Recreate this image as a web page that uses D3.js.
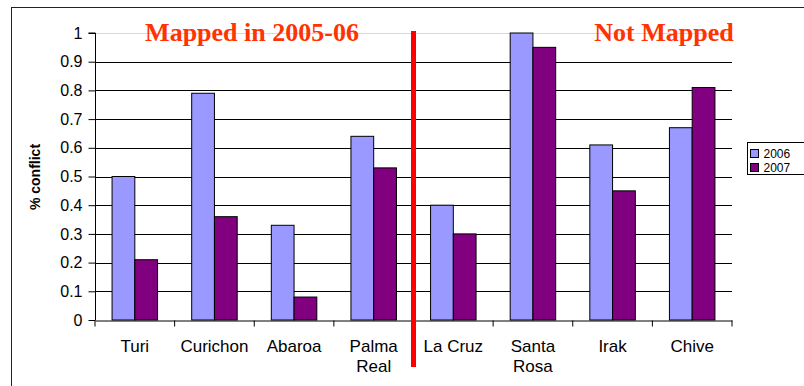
<!DOCTYPE html>
<html>
<head>
<meta charset="utf-8">
<script src="https://cdn.jsdelivr.net/npm/d3@7"></script>
<style>
  html, body { margin: 0; padding: 0; background: #fff; }
  svg { display: block; }
</style>
</head>
<body>
<svg id="chart" width="804" height="386"></svg>
<script>
// Study sites, in display order (first four mapped, last four not mapped)
const categories = ["Turi", "Curichon", "Abaroa", "Palma Real", "La Cruz", "Santa Rosa", "Irak", "Chive"];
const seriesNames = ["2006", "2007"];
const values2006 = [0.50, 0.79, 0.33, 0.64, 0.40, 1.00, 0.61, 0.67];
const values2007 = [0.21, 0.36, 0.08, 0.53, 0.30, 0.95, 0.45, 0.81];
const yTicks = [0, 0.1, 0.2, 0.3, 0.4, 0.5, 0.6, 0.7, 0.8, 0.9, 1];
const seriesColors = ["#9999ff", "#800080"];

const svg = d3.select("#chart");

// Outer chart frame
svg.append("rect")
  .attr("x", 11.5).attr("y", 7.5)
  .attr("width", 820).attr("height", 400)
  .attr("fill", "none").attr("stroke", "#222").attr("stroke-width", 1);

const plot = { left: 95, right: 732, top: 33, bottom: 320 };

const x0 = d3.scaleBand().domain(categories).range([plot.left, plot.right]).padding(0);
const x1 = d3.scaleBand().domain(seriesNames).range([0, x0.bandwidth()]).paddingInner(0).paddingOuter(0.75);
const y = d3.scaleLinear().domain([0, 1]).range([plot.bottom, plot.top]);

// Horizontal gridlines
svg.append("g")
  .selectAll("line")
  .data(yTicks.filter(t => t > 0))
  .join("line")
  .attr("x1", plot.left).attr("x2", plot.right)
  .attr("y1", d => Math.round(y(d)) + 0.5).attr("y2", d => Math.round(y(d)) + 0.5)
  .attr("stroke", d => d === 1 ? "#d8d8d8" : "#000")
  .attr("stroke-width", 1);

// Bars
const rows = categories.map((c, i) => ({ cat: c, vals: [values2006[i], values2007[i]] }));
const groups = svg.append("g").selectAll("g")
  .data(rows)
  .join("g")
  .attr("transform", d => `translate(${x0(d.cat)},0)`);

groups.selectAll("rect")
  .data(d => d.vals.map((v, j) => ({ s: seriesNames[j], v, j })))
  .join("rect")
  .attr("x", d => x1(d.s))
  .attr("y", d => y(d.v))
  .attr("width", x1.bandwidth())
  .attr("height", d => y(0) - y(d.v))
  .attr("fill", d => seriesColors[d.j])
  .attr("stroke", "#000")
  .attr("stroke-width", 1);

// Y axis
const yAxis = d3.axisLeft(y).tickValues(yTicks).tickSize(7).tickPadding(6)
  .tickFormat(d => d3.format("")(+d.toFixed(1)));
const gy = svg.append("g")
  .attr("transform", `translate(${plot.left + 0.5},0)`)
  .call(yAxis);
gy.select(".domain").attr("d", `M-7,${y(1)}H0V${y(0)}`).attr("stroke", "#000");
gy.selectAll("line").attr("stroke", "#000");
gy.selectAll("text")
  .attr("font-family", "'Liberation Sans', Arial, sans-serif")
  .attr("font-size", 16).attr("fill", "#000");

// X axis
const xAxis = d3.axisBottom(x0).tickSize(0).tickFormat("");
const gx = svg.append("g")
  .attr("transform", `translate(0,${Math.round(y(0)) + 0.5})`)
  .call(xAxis);
gx.select(".domain").attr("stroke", "#000");
gx.selectAll(".boundary")
  .data(categories.map(c => x0(c)).concat([plot.right]))
  .join("line")
  .attr("x1", d => d).attr("x2", d => d)
  .attr("y1", 0).attr("y2", 6)
  .attr("stroke", "#000");

// Category labels (wrap two-word names)
const labels = svg.append("g")
  .attr("font-family", "'Liberation Sans', Arial, sans-serif")
  .attr("font-size", 17)
  .attr("text-anchor", "middle");
labels.selectAll("text")
  .data(categories)
  .join("text")
  .attr("x", d => x0(d) + x0.bandwidth() / 2)
  .attr("y", 352)
  .each(function (d) {
    const words = d === "La Cruz" ? [d] : d.split(" ");
    d3.select(this).selectAll("tspan")
      .data(words)
      .join("tspan")
      .attr("x", x0(d) + x0.bandwidth() / 2)
      .attr("dy", (w, k) => k === 0 ? 0 : 20)
      .text(w => w);
  });

// Y axis title
svg.append("text")
  .attr("transform", "translate(40,177) rotate(-90)")
  .attr("text-anchor", "middle")
  .attr("font-family", "'Liberation Sans', Arial, sans-serif")
  .attr("font-weight", "bold")
  .attr("font-size", 14)
  .text("% conflict");

// Divider between mapped and unmapped sites
svg.append("line")
  .attr("x1", x0("La Cruz")).attr("x2", x0("La Cruz"))
  .attr("y1", 31).attr("y2", 367)
  .attr("stroke", "#ff0000").attr("stroke-width", 5);

// Section headings
const headings = [
  { text: "Mapped in 2005-06", cx: 252 },
  { text: "Not Mapped", cx: 664 }
];
svg.append("g").selectAll("text")
  .data(headings)
  .join("text")
  .attr("x", d => d.cx).attr("y", 41)
  .attr("text-anchor", "middle")
  .attr("font-family", "'Liberation Serif', 'Times New Roman', serif")
  .attr("font-weight", "bold")
  .attr("font-size", 26)
  .attr("fill", "#ff3300")
  .text(d => d.text);

// Legend
const legend = svg.append("g").attr("transform", "translate(747.5,142.5)");
legend.append("rect")
  .attr("width", 80).attr("height", 32)
  .attr("fill", "#fff").attr("stroke", "#000").attr("stroke-width", 1);
const items = legend.selectAll("g.item")
  .data(seriesNames)
  .join("g")
  .attr("class", "item")
  .attr("transform", (d, i) => `translate(3,${7 + i * 14})`);
items.append("rect")
  .attr("width", 8).attr("height", 8)
  .attr("fill", (d, i) => seriesColors[i])
  .attr("stroke", "#000");
items.append("text")
  .attr("x", 13).attr("y", 8.5)
  .attr("font-family", "'Liberation Sans', Arial, sans-serif")
  .attr("font-size", 12)
  .text(d => d);
</script>
</body>
</html>
